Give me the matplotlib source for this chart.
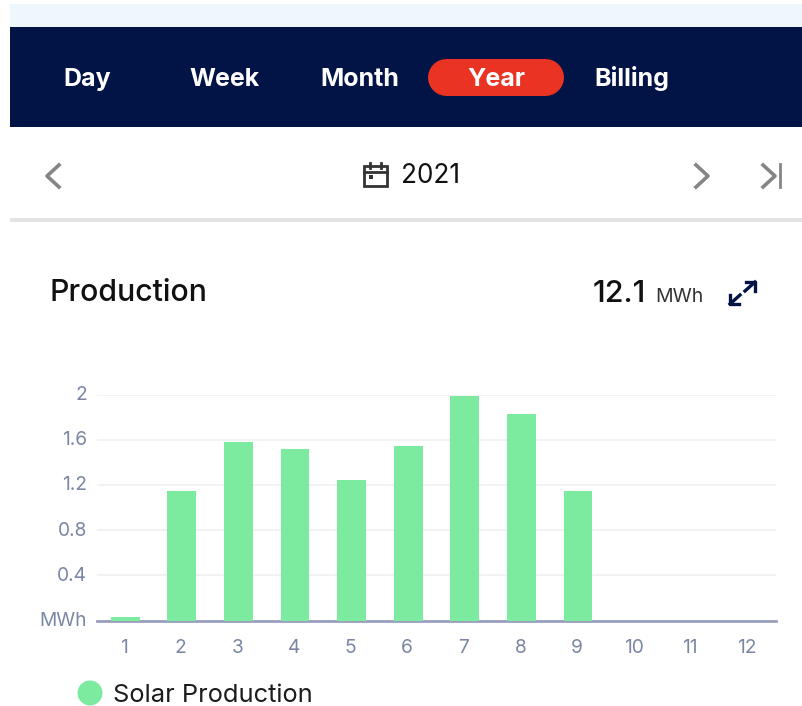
import matplotlib
matplotlib.use('Agg')
import matplotlib.pyplot as plt
from matplotlib.patches import Rectangle, Circle
from matplotlib.transforms import ScaledTranslation

months = [1, 2, 3, 4, 5, 6, 7, 8, 9, 10, 11, 12]
production = [0.03, 1.15, 1.58, 1.52, 1.245, 1.545, 1.99, 1.83, 1.15, 0, 0, 0]
y_ticks = [0, 0.4, 0.8, 1.2, 1.6, 2]
y_labels = ['MWh', '0.4', '0.8', '1.2', '1.6', '2']
tabs = ['Day', 'Week', 'Month', 'Year', 'Billing']
tab_x = [87.5, 224, 360, 496, 632]

W, H = 803, 706
GREEN = '#7deb9f'
NAVY = '#021345'
GREY = '#7a86a3'
CHEVRON = '#858585'

plt.rcParams['font.family'] = ['Inter', 'DejaVu Sans']

fig = plt.figure(figsize=(W / 100, H / 100), dpi=100, facecolor='white')

# page furniture, drawn in pixel coordinates
ui = fig.add_axes([0, 0, 1, 1])
ui.set_xlim(0, W)
ui.set_ylim(H, 0)
ui.axis('off')

ui.add_patch(Rectangle((10, 4), W - 10, 23, fc='#eff7fd', ec='none'))
ui.add_patch(Rectangle((10, 27), W - 10, 100, fc=NAVY, ec='none'))
# pill behind the selected tab
ui.plot([446.5, 545.5], [77, 77], color='#ea3323', lw=37 * 0.72, solid_capstyle='round')
for name, x in zip(tabs, tab_x):
    ui.text(x, 86, name, color='white', fontsize=18, fontweight='bold',
            ha='center', va='baseline')

ui.add_patch(Rectangle((10, 218), W - 10, 3.5, fc='#e3e3e3', ec='none'))

# navigation chevrons
ui.plot([59, 47, 59], [165, 176, 187], color=CHEVRON, lw=2.6)
ui.plot([696, 708, 696], [165, 176, 187], color=CHEVRON, lw=2.6)
ui.plot([763, 775, 763], [165, 176, 187], color=CHEVRON, lw=2.6)
ui.plot([780, 780], [164, 187], color=CHEVRON, lw=2)

# calendar icon
ui.add_patch(Rectangle((364, 166), 23, 20, fc='none', ec='#333333', lw=2))
ui.plot([364, 387], [171.5, 171.5], color='#333333', lw=2)
ui.plot([370, 370], [163, 168], color='#333333', lw=2)
ui.plot([381, 381], [163, 168], color='#333333', lw=2)
ui.add_patch(Rectangle((369, 175), 4, 4, fc='#333333', ec='none'))
ui.text(401.5, 183, '2021', color='#111111', fontsize=18.8, ha='left', va='baseline')

ui.text(50, 301, 'Production', color='#111111', fontsize=21.8, fontweight='medium',
        ha='left', va='baseline')
ui.text(593, 302, '12.1', color='#111111', fontsize=22, fontweight='medium',
        ha='left', va='baseline')
ui.text(655, 302, 'MWh', color='#333333', fontsize=14, ha='left', va='baseline')

# expand icon
ui.plot([746, 755, 755], [282, 282, 291], color=NAVY, lw=2.4)
ui.plot([755, 745], [282, 291], color=NAVY, lw=2.4)
ui.plot([730, 730, 739], [295, 304, 304], color=NAVY, lw=2.4)
ui.plot([730, 740], [304, 295], color=NAVY, lw=2.4)

# legend
ui.add_patch(Circle((90, 693), 12.5, fc=GREEN, ec='none'))
ui.text(113, 702, 'Solar Production', color='#1c1c1c', fontsize=18.3, ha='left', va='baseline')

# the chart itself
left, right, top, bottom = 97, 776, 394.5, 620.5
ax = fig.add_axes([left / W, 1 - bottom / H, (right - left) / W, (bottom - top) / H])
ax.patch.set_alpha(0)
ax.bar(months, production, width=0.51, color=GREEN, zorder=3)
ax.set_xlim(0.5, 12.5)
ax.set_ylim(0, 2)
ax.set_xticks(months)
ax.set_yticks(y_ticks)
ax.set_yticklabels(y_labels)
ax.tick_params(axis='both', length=0, labelsize=13.8, labelcolor=GREY)
ax.tick_params(axis='x', pad=13)
ax.tick_params(axis='y', pad=7)
ax.grid(axis='y', color='#f0f0f0', lw=1.2, zorder=0)
ax.set_axisbelow(True)
for side in ['top', 'right', 'left']:
    ax.spines[side].set_visible(False)
ax.spines['bottom'].set_color('#9a9fbd')
ax.spines['bottom'].set_linewidth(2)
ax.spines['bottom'].set_zorder(2)

# nudge the tick labels up/left by a pixel or two
for lab in ax.get_yticklabels():
    lab.set_transform(lab.get_transform() + ScaledTranslation(0, 1.5 / 100, fig.dpi_scale_trans))
for lab in ax.get_xticklabels():
    lab.set_transform(lab.get_transform() + ScaledTranslation(-1 / 100, 0, fig.dpi_scale_trans))

fig.savefig('out.png', dpi=100)
